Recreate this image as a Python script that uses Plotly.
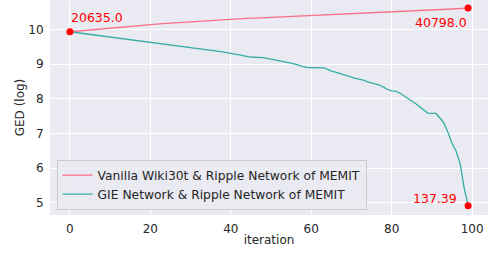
import plotly.graph_objects as go

iterations = list(range(100))

vanilla_log = [
    9.935, 9.946, 9.957, 9.968, 9.979, 9.990, 10.000, 10.011, 10.021, 10.032,
    10.042, 10.052, 10.062, 10.072, 10.082, 10.092, 10.102, 10.112, 10.121, 10.131,
    10.140, 10.149, 10.158, 10.167, 10.176, 10.184, 10.193, 10.201, 10.209, 10.217,
    10.225, 10.233, 10.241, 10.248, 10.256, 10.263, 10.270, 10.277, 10.284, 10.292,
    10.300, 10.305, 10.310, 10.315, 10.320, 10.325, 10.330, 10.335, 10.340, 10.345,
    10.350, 10.355, 10.360, 10.365, 10.370, 10.375, 10.380, 10.385, 10.390, 10.395,
    10.400, 10.405, 10.410, 10.415, 10.420, 10.425, 10.430, 10.435, 10.440, 10.445,
    10.450, 10.455, 10.460, 10.465, 10.470, 10.475, 10.480, 10.485, 10.490, 10.495,
    10.500, 10.506, 10.512, 10.518, 10.524, 10.530, 10.536, 10.543, 10.549, 10.555,
    10.561, 10.567, 10.573, 10.579, 10.585, 10.591, 10.598, 10.604, 10.610, 10.616,
]

gie_log = [
    9.935, 9.920, 9.905, 9.890, 9.875, 9.860, 9.845, 9.830, 9.815, 9.800,
    9.785, 9.770, 9.755, 9.740, 9.725, 9.710, 9.695, 9.680, 9.665, 9.650,
    9.635, 9.620, 9.605, 9.590, 9.578, 9.570, 9.555, 9.540, 9.525, 9.505,
    9.488, 9.470, 9.455, 9.440, 9.425, 9.405, 9.385, 9.370, 9.355, 9.335,
    9.314, 9.295, 9.270, 9.245, 9.220, 9.205, 9.200, 9.198, 9.190, 9.170,
    9.150, 9.130, 9.100, 9.080, 9.050, 9.030, 9.000, 8.960, 8.930, 8.905,
    8.900, 8.900, 8.900, 8.895, 8.860, 8.800, 8.770, 8.740, 8.710, 8.670,
    8.630, 8.590, 8.570, 8.540, 8.490, 8.460, 8.430, 8.400, 8.340, 8.270,
    8.230, 8.225, 8.170, 8.100, 8.020, 7.940, 7.860, 7.770, 7.660, 7.590,
    7.585, 7.580, 7.450, 7.300, 7.030, 6.720, 6.500, 6.150, 5.450, 4.923,
]

series_names = ["Vanilla Wiki30t & Ripple Network of MEMIT",
                "GIE Network & Ripple Network of MEMIT"]
series_colors = ["#f77189", "#36ada4"]

start_label = "20635.0"
vanilla_end_label = "40798.0"
gie_end_label = "137.39"

font_family = "DejaVu Sans"
text_color = "#262626"

fig = go.Figure()
for vals, name, col in zip([vanilla_log, gie_log], series_names, series_colors):
    fig.add_trace(go.Scatter(x=iterations, y=vals, mode="lines", name=name,
                             line=dict(color=col, width=1.3)))

# highlighted points
fig.add_trace(go.Scatter(
    x=[iterations[0], iterations[-1], iterations[-1]],
    y=[vanilla_log[0], vanilla_log[-1], gie_log[-1]],
    mode="markers", marker=dict(color="red", size=7), showlegend=False))

ann_font = dict(family=font_family, size=12.5, color="red")
fig.add_annotation(x=iterations[0], y=vanilla_log[0], text=start_label,
                   showarrow=False, xanchor="left", yanchor="middle",
                   yshift=14, xshift=-1, font=ann_font)
fig.add_annotation(x=iterations[-1], y=vanilla_log[-1], text=vanilla_end_label,
                   showarrow=False, xanchor="right", yanchor="middle",
                   yshift=-14, xshift=1, font=ann_font)
fig.add_annotation(x=iterations[-1], y=gie_log[-1], text=gie_end_label,
                   showarrow=False, xanchor="right", yanchor="middle",
                   yshift=7, xshift=-9, font=ann_font)

fig.update_layout(
    width=489, height=255,
    margin=dict(l=50, r=1, t=0, b=40),
    paper_bgcolor="white", plot_bgcolor="#eaeaf2",
    font=dict(family=font_family, size=12, color=text_color),
    legend=dict(x=0.015, y=0.025, xanchor="left", yanchor="bottom",
                bgcolor="rgba(234,234,242,0.8)", bordercolor="#cccccc",
                borderwidth=1, font=dict(size=12.3, color=text_color),
                itemwidth=30, tracegroupgap=0),
)
fig.update_xaxes(range=[-4.95, 103.95], tickvals=[0, 20, 40, 60, 80, 100],
                 automargin=False,
                 showgrid=True, gridcolor="white", gridwidth=1, zeroline=False,
                 showline=False, ticks="outside", ticklen=3, tickcolor="white",
                 title=dict(text="iteration", standoff=0,
                            font=dict(size=12, color=text_color)))
fig.update_yaxes(range=[4.654, 10.85], tickvals=[5, 6, 7, 8, 9, 10],
                 automargin=False,
                 showgrid=True, gridcolor="white", gridwidth=1, zeroline=False,
                 showline=False, ticks="outside", ticklen=3, tickcolor="white",
                 title=dict(text="GED (log)", standoff=1,
                            font=dict(size=12, color=text_color)))

fig.write_html("out.html",
               config={"displayModeBar": False},
               post_script="document.body.style.margin='0';"
                           "document.body.style.overflow='hidden';")
